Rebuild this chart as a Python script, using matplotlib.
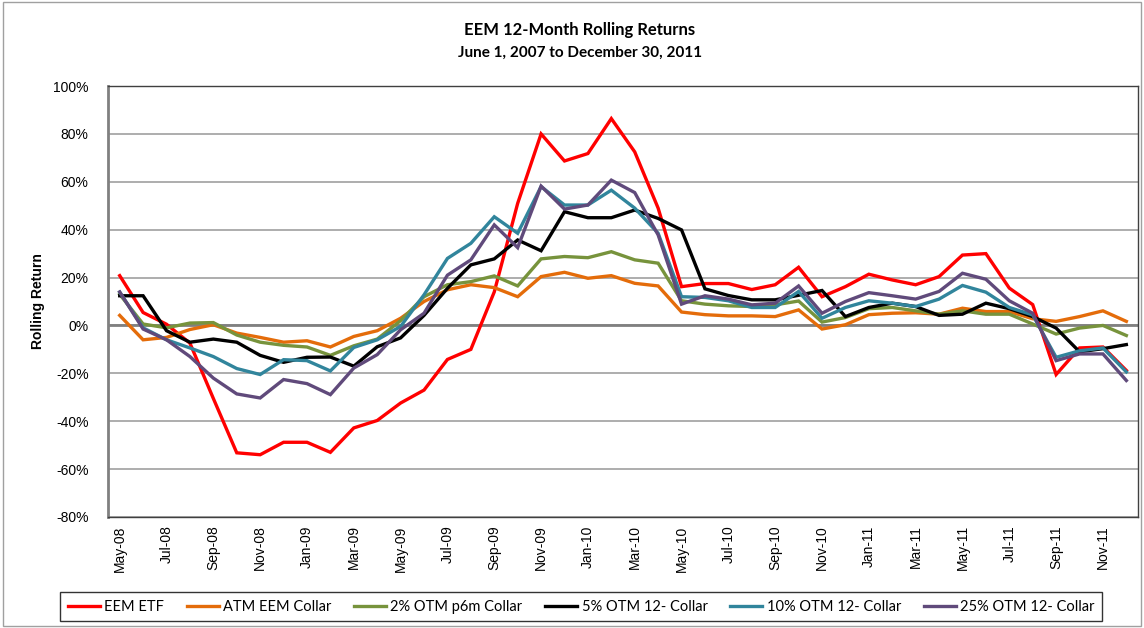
import numpy as np
import matplotlib
matplotlib.use('Agg')
import matplotlib.pyplot as plt
from matplotlib.patches import Rectangle

months = ['May-08', 'Jun-08', 'Jul-08', 'Aug-08', 'Sep-08', 'Oct-08', 'Nov-08', 'Dec-08',
          'Jan-09', 'Feb-09', 'Mar-09', 'Apr-09', 'May-09', 'Jun-09', 'Jul-09', 'Aug-09',
          'Sep-09', 'Oct-09', 'Nov-09', 'Dec-09', 'Jan-10', 'Feb-10', 'Mar-10', 'Apr-10',
          'May-10', 'Jun-10', 'Jul-10', 'Aug-10', 'Sep-10', 'Oct-10', 'Nov-10', 'Dec-10',
          'Jan-11', 'Feb-11', 'Mar-11', 'Apr-11', 'May-11', 'Jun-11', 'Jul-11', 'Aug-11',
          'Sep-11', 'Oct-11', 'Nov-11', 'Dec-11']

eem_etf = [20.8, 5.4, 0.5, -7.4, -30.5, -53.2, -54.0, -48.8, -48.8, -53.0, -42.8, -39.7,
           -32.4, -27.0, -14.2, -10.0, 14.0, 51.0, 80.0, 68.7, 71.8, 86.4, 72.5, 49.0,
           16.2, 17.5, 17.5, 15.0, 17.0, 24.3, 12.0, 16.2, 21.4, 19.0, 17.0, 20.4,
           29.4, 30.0, 15.6, 8.7, -20.5, -9.4, -9.0, -18.8]
atm_collar = [4.2, -6.0, -5.0, -1.7, 0.3, -3.2, -5.0, -7.0, -6.4, -9.0, -4.6, -2.2,
              3.0, 10.0, 14.9, 17.0, 15.8, 12.0, 20.4, 22.2, 19.7, 20.8, 17.6, 16.5,
              5.6, 4.5, 4.0, 4.0, 3.7, 6.5, -1.5, 0.3, 4.5, 5.1, 5.3, 4.7,
              7.2, 5.8, 5.8, 2.8, 1.7, 3.7, 6.1, 1.7]
otm2_p6m = [13.0, 0.6, -1.0, 1.0, 1.2, -4.0, -7.0, -8.3, -9.0, -12.5, -8.5, -5.7,
            2.0, 12.0, 17.0, 18.3, 20.7, 16.5, 27.8, 28.8, 28.3, 30.8, 27.4, 26.0,
            10.3, 8.9, 8.2, 7.9, 8.6, 10.2, 1.4, 3.3, 7.0, 7.5, 6.1, 4.7,
            6.1, 4.7, 4.7, 0.6, -3.6, -1.1, 0.0, -4.2]
otm5_12 = [12.4, 12.4, -2.2, -7.0, -5.7, -7.0, -12.5, -15.4, -13.3, -13.2, -17.0, -8.9,
           -5.2, 4.2, 15.5, 25.3, 27.8, 35.7, 31.2, 47.5, 45.0, 45.0, 48.2, 44.7,
           39.9, 15.3, 12.5, 10.7, 10.7, 12.6, 14.6, 3.7, 7.5, 9.3, 7.9, 4.2,
           4.7, 9.3, 7.0, 3.7, -1.1, -11.0, -9.7, -8.0]
otm10_12 = [13.9, -1.0, -6.0, -9.4, -13.0, -18.0, -20.5, -14.3, -14.7, -19.0, -9.2, -6.0,
            -0.4, 12.8, 28.0, 34.3, 45.4, 38.5, 58.0, 50.3, 50.3, 56.5, 49.0, 38.5,
            12.0, 11.7, 10.3, 7.5, 7.5, 14.2, 3.0, 7.5, 10.3, 9.3, 7.9, 11.0,
            16.7, 13.9, 7.5, 4.4, -13.3, -10.6, -9.4, -19.4]
otm25_12 = [14.0, -1.5, -6.0, -13.0, -22.0, -28.6, -30.3, -22.6, -24.3, -28.9, -17.8, -12.2,
            -1.8, 5.1, 21.0, 27.4, 42.0, 32.5, 58.2, 48.6, 50.3, 60.7, 55.5, 37.8,
            8.9, 12.4, 11.0, 8.6, 9.3, 16.5, 5.1, 10.0, 13.7, 12.4, 11.0, 14.2,
            21.8, 19.3, 10.3, 5.1, -14.7, -11.9, -11.9, -23.0]

series = [
    ('EEM ETF', eem_etf, '#FF0000'),
    ('ATM EEM Collar', atm_collar, '#E46C0A'),
    ('2% OTM p6m Collar', otm2_p6m, '#77933C'),
    ('5% OTM 12- Collar', otm5_12, '#000000'),
    ('10% OTM 12- Collar', otm10_12, '#31859C'),
    ('25% OTM 12- Collar', otm25_12, '#604A7B'),
]

plt.rcParams['font.family'] = ['Liberation Sans', 'DejaVu Sans']

fig = plt.figure(figsize=(11.44, 6.28), dpi=100)
ax = fig.add_axes([0.0944, 0.1768, 0.9004, 0.6862])

x = np.arange(len(months))
for name, vals, col in series:
    ax.plot(x, vals, color=col, linewidth=2.4, label=name, solid_joinstyle='miter')

ax.set_xlim(-0.5, len(months) - 0.5)
ax.set_ylim(-80, 100)
yt = np.arange(-80, 101, 20)
ax.set_yticks(yt)
ax.set_yticklabels([f'{v}%' for v in yt], fontsize=10)
ax.set_xticks(x[::2])
ax.set_xticklabels(months[::2], rotation=90, fontsize=10)
ax.tick_params(axis='x', length=0, pad=6)
ax.tick_params(axis='y', length=0, pad=14)

ax.grid(axis='y', color='#A0A0A0', linewidth=1.2)
ax.axhline(0, color='#808080', linewidth=2.0, zorder=1)
ax.set_axisbelow(True)
for s in ['top', 'right']:
    ax.spines[s].set_color('#404040')
    ax.spines[s].set_linewidth(1.0)
ax.spines['left'].set_color('#808080')
ax.spines['left'].set_linewidth(2.0)
ax.spines['bottom'].set_color('#404040')
ax.spines['bottom'].set_linewidth(1.0)

ax.set_ylabel('Rolling Return', fontsize=10, fontweight='bold', labelpad=6)

fig.text(0.507, 0.952, 'EEM 12-Month Rolling Returns', ha='center', va='center',
         fontsize=12, fontweight='bold', family=['Lato', 'DejaVu Sans'])
fig.text(0.507, 0.916, 'June 1, 2007 to December 30, 2011', ha='center', va='center',
         fontsize=11, fontweight='bold', family=['Lato', 'DejaVu Sans'])

leg = fig.legend(loc='center', bbox_to_anchor=(0.508, 0.034), ncol=6,
                 prop={'family': ['Lato', 'DejaVu Sans'], 'size': 10.5},
                 frameon=True, fancybox=False, edgecolor='#000000', handlelength=2.2,
                 handletextpad=0.3, columnspacing=1.55, borderpad=0.5)
leg.get_frame().set_linewidth(1.0)

fig.patches.append(Rectangle((0.003, 0.003), 0.994, 0.994, transform=fig.transFigure,
                             fill=False, edgecolor='#A0A0A0', linewidth=1.0))

fig.savefig('out.png', dpi=100)
